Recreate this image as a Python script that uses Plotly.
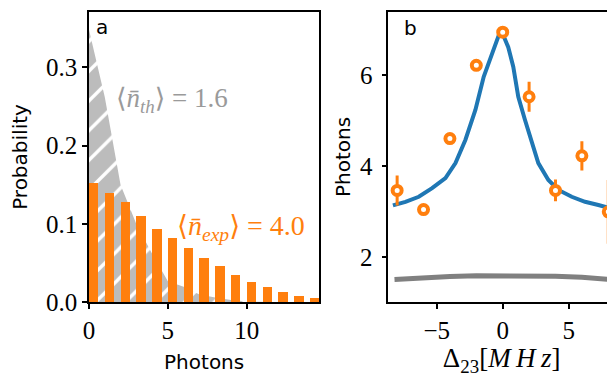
import plotly.graph_objects as go

# Panel a data
photon_n = list(range(15))
p_exp = [0.153, 0.140, 0.1285, 0.110, 0.0936, 0.0821, 0.0694, 0.057, 0.0468,
         0.0349, 0.026, 0.020, 0.0132, 0.0085, 0.006]
th_n = list(range(15))
p_th = [0.348, 0.262, 0.150, 0.100, 0.062, 0.027, 0.020, 0.010, 0.006,
        0.003, 0.001, 0.0005, 0.0, 0.0, 0.0]

# Panel b data
det_meas = [-8, -6, -4, -2, 0, 2, 4, 6, 8]
photons_meas = [3.46, 3.04, 4.60, 6.21, 6.94, 5.52, 3.46, 4.22, 2.99]
photons_err = [0.33, 0.08, 0.08, 0.08, 0.08, 0.33, 0.24, 0.32, 0.70]

det_sim = [-8.32, -7.37, -6.36, -5.35, -4.34, -3.58, -2.83, -2.07, -1.44, -0.80,
           -0.30, -0.05, 0.42, 0.80, 1.18, 1.69, 2.20, 2.70, 3.46, 4.22, 5.23,
           6.24, 7.25, 8.0]
photons_sim = [3.13, 3.21, 3.32, 3.51, 3.73, 4.06, 4.57, 5.23, 5.96, 6.47,
               6.87, 6.94, 6.61, 6.18, 5.52, 5.01, 4.50, 4.06, 3.69, 3.47, 3.32,
               3.21, 3.14, 3.08]

det_th = [-8.2, -6, -4, -2, 0, 2, 4, 6, 8.2]
photons_th = [1.50, 1.54, 1.57, 1.585, 1.59, 1.59, 1.575, 1.55, 1.50]

ORANGE = "#ff7f0e"
BLUE = "#1f77b4"
GRAYFILL = "#bcbcbc"
SERIF = "Liberation Serif, DejaVu Serif, serif"
SANS = "DejaVu Sans, sans-serif"

# page body has an 8px margin: the figure is 607x369 placed at (8, 8)
W, H, OFF = 607, 369, 8


def px(x):
    return (x - OFF) / W


def py(y):
    return 1 - (y - OFF) / H


XA_RANGE = [0, 14.6]
YA_RANGE = [0, 0.371]

fig = go.Figure()

fig.add_trace(go.Scatter(
    x=th_n, y=p_th, mode="lines", line=dict(width=0, color=GRAYFILL),
    fill="tozeroy", fillcolor=GRAYFILL,
    fillpattern=dict(shape="/", bgcolor=GRAYFILL, fgcolor="#ffffff", fgopacity=1,
                     fillmode="replace", size=21, solidity=0.16),
    xaxis="x", yaxis="y", showlegend=False, hoverinfo="skip"))

fig.add_trace(go.Bar(
    x=photon_n, y=p_exp, width=0.6, offset=0, marker=dict(color=ORANGE, line=dict(width=0)),
    xaxis="x3", yaxis="y3", showlegend=False))

fig.add_trace(go.Scatter(
    x=det_th, y=photons_th, mode="lines", line=dict(color="#808080", width=5),
    xaxis="x2", yaxis="y2", showlegend=False))

fig.add_trace(go.Scatter(
    x=det_sim, y=photons_sim, mode="lines", line=dict(color=BLUE, width=4),
    xaxis="x2", yaxis="y2", showlegend=False))

fig.add_trace(go.Scatter(
    x=det_meas, y=photons_meas, mode="markers",
    marker=dict(symbol="circle", size=9, color="white", line=dict(color=ORANGE, width=4)),
    error_y=dict(type="data", array=photons_err, thickness=3, width=0, color=ORANGE),
    xaxis="x2", yaxis="y2", showlegend=False))

axis_common = dict(showline=True, linecolor="black", linewidth=1.5, ticks="outside",
                   ticklen=5, tickwidth=1.5, tickcolor="black", showgrid=False,
                   zeroline=False, automargin=False,
                   tickfont=dict(family=SERIF, size=25, color="black"))

fig.update_layout(
    width=W, height=H, margin=dict(l=0, r=0, t=0, b=0, autoexpand=False),
    paper_bgcolor="white", plot_bgcolor="rgba(0,0,0,0)", bargap=0,
    xaxis=dict(domain=[px(89), px(319.3)], range=XA_RANGE, tickvals=[0, 5, 10],
               mirror=True, anchor="y",
               title=dict(text="Photons", font=dict(family=SANS, size=20, color="black"), standoff=12),
               **axis_common),
    yaxis=dict(domain=[py(302.3), py(11.7)], range=YA_RANGE, tickvals=[0, 0.1, 0.2, 0.3],
               ticktext=["0.0", "0.1", "0.2", "0.3"], mirror=True, anchor="x",
               title=dict(text="Probability", font=dict(family=SANS, size=20, color="black"), standoff=16),
               **axis_common),
    xaxis3=dict(overlaying="x", range=XA_RANGE, visible=False, anchor="y3"),
    yaxis3=dict(overlaying="y", range=YA_RANGE, visible=False, anchor="x3"),
    xaxis2=dict(domain=[px(388.3), 1.0], range=[-8.67, 8.51], tickvals=[-5, 0, 5],
                ticktext=["\u22125", "0", "5"], mirror=True, anchor="y2",
                title=dict(text="\u0394<sub>23</sub>[<i>M\u2009H\u2009z</i>]",
                           font=dict(family=SERIF, size=27, color="black"), standoff=2),
                **axis_common),
    yaxis2=dict(domain=[py(302.3), py(11.7)], range=[1.0, 7.39], tickvals=[2, 4, 6],
                mirror=False, anchor="x2", ticklabelstandoff=4,
                title=dict(text="Photons", font=dict(family=SANS, size=20, color="black"), standoff=4),
                **axis_common),
    annotations=[
        dict(text="a", x=px(94), y=py(13), xref="paper", yref="paper",
             xanchor="left", yanchor="top", showarrow=False,
             font=dict(family=SANS, size=20, color="black")),
        dict(text="b", x=px(402), y=py(14), xref="paper", yref="paper",
             xanchor="left", yanchor="top", showarrow=False,
             font=dict(family=SANS, size=20, color="black")),
        dict(text="\u27e8<i>n\u0304</i><sub><i>th</i></sub>\u27e9 = 1.6", x=px(114), y=py(100),
             xref="paper", yref="paper", xanchor="left", yanchor="middle", showarrow=False,
             font=dict(family=SERIF, size=27, color="#9a9a9a")),
        dict(text="\u27e8<i>n\u0304</i><sub><i>exp</i></sub>\u27e9 = 4.0", x=px(175), y=py(227),
             xref="paper", yref="paper", xanchor="left", yanchor="middle", showarrow=False,
             font=dict(family=SERIF, size=28, color=ORANGE)),
    ],
)

fig.write_html("out.html")
